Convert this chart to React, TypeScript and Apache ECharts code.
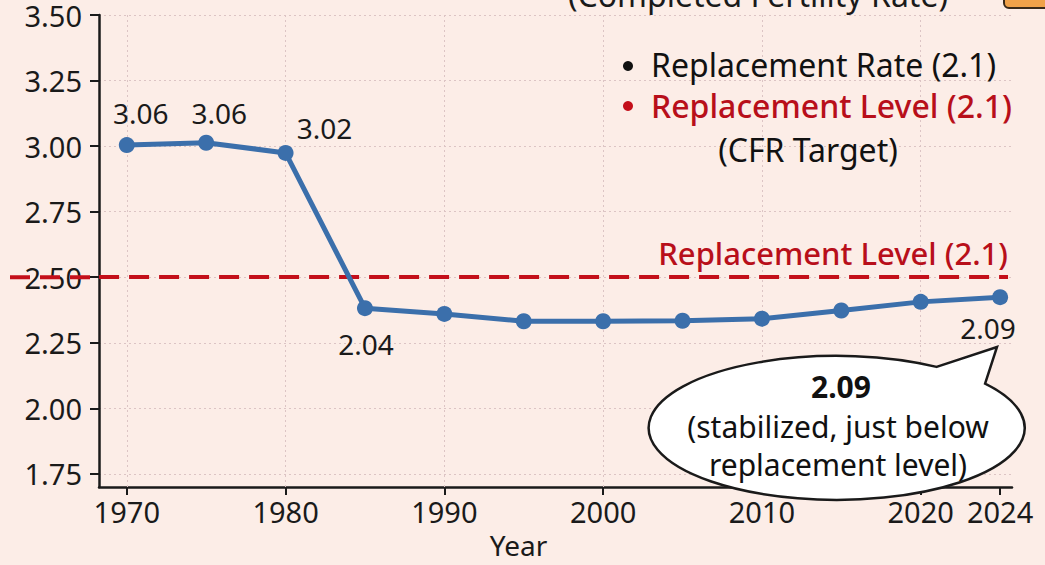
import React, { useEffect, useRef } from "react";
import * as echarts from "echarts";

// ---- data ----
const years = ["1970", "1975", "1980", "1985", "1990", "1995", "2000", "2005", "2010", "2015", "2020", "2024"];
const cfrValues = [3.004, 3.013, 2.974, 2.382, 2.36, 2.332, 2.332, 2.334, 2.342, 2.373, 2.406, 2.424];
const pointLabels = ["3.06", "3.06", "3.02", "2.04", "", "", "", "", "", "", "", "2.09"];
const labelledYearIdx = [0, 2, 4, 6, 8, 10, 11];
const gridYearIdx = [0, 2, 4, 6, 8, 10];
const yTickValues = [1.75, 2.0, 2.25, 2.5, 2.75, 3.0, 3.25, 3.5];
const yMin = 1.7;
const yMax = 3.5;
const replacementLevel = 2.5;
const replacementLabel = "Replacement Level (2.1)";
const legendItems = ["Replacement Rate (2.1)", "Replacement Level (2.1)"];
const legendNote = "(CFR Target)";
const titleText = "(Completed Fertility Rate)";
const calloutValue = "2.09";
const calloutLines = ["(stabilized, just below", "replacement level)"];
const xAxisName = "Year";

const FONT = "'Noto Sans', Roboto, sans-serif";
const INK = "#1a1a1a";
const BLUE = "#3b6fab";
const RED = "#c40f1a";
const GRIDC = "#dcc4c4";

echarts.graphic.registerShape(
  "bubble",
  echarts.graphic.extendPath(
    "M936.6 366.9 L997 347 L985.1 383.7 A188 72 0 1 1 936.6 366.9 Z",
    {}
  )
);

// label placement per point (style only)
const labelPlacement: Record<number, { position: string; offset: number[] }> = {
  0: { position: "top", offset: [14, -5] },
  1: { position: "top", offset: [13, -3] },
  2: { position: "top", offset: [39, 2] },
  3: { position: "bottom", offset: [1, 9] },
  11: { position: "bottom", offset: [-12, 4] },
};

export default function App() {
  const ref = useRef<HTMLDivElement>(null);
  useEffect(() => {
    if (!ref.current) return;
    const chart = echarts.init(ref.current, undefined, { renderer: "svg" });
    const seriesData = cfrValues.map((v, i) => {
      const lbl = pointLabels[i];
      const pl = labelPlacement[i];
      return {
        value: [i, v],
        label: lbl
          ? {
              show: true,
              formatter: lbl,
              position: pl ? pl.position : "top",
              offset: pl ? pl.offset : [0, 0],
            }
          : { show: false },
      };
    });

    const gridLineStyle = { color: GRIDC, type: [2, 3], width: 1, opacity: 1 };

    const graphics: any[] = [
      {
        type: "text",
        z: 100,
        style: {
          x: 758,
          y: 10,
          text: titleText,
          align: "center",
          verticalAlign: "bottom",
          fontSize: 32,
          fontFamily: FONT,
          fill: INK,
        },
      },
      {
        type: "rect",
        z: 100,
        shape: { x: 1004, y: -22, width: 60, height: 30, r: 5 },
        style: { fill: "#f0a24a", stroke: "#3a2a1a", lineWidth: 2 },
      },
      {
        type: "circle",
        z: 100,
        shape: { cx: 628, cy: 66, r: 5 },
        style: { fill: "#111" },
      },
      {
        type: "text",
        z: 100,
        style: {
          x: 651,
          y: 64,
          text: legendItems[0],
          verticalAlign: "middle",
          fontSize: 32,
          fontFamily: FONT,
          fill: "#111",
        },
      },
      {
        type: "circle",
        z: 100,
        shape: { cx: 628, cy: 106, r: 5 },
        style: { fill: RED },
      },
      {
        type: "text",
        z: 100,
        style: {
          x: 651,
          y: 105,
          text: legendItems[1],
          verticalAlign: "middle",
          fontSize: 32,
          fontWeight: 500,
          fontFamily: FONT,
          fill: "#b80f1a",
        },
      },
      {
        type: "text",
        z: 100,
        style: {
          x: 808,
          y: 149,
          text: legendNote,
          align: "center",
          verticalAlign: "middle",
          fontSize: 32,
          fontFamily: FONT,
          fill: "#111",
        },
      },
      {
        type: "bubble",
        z: 100,
        x: 0,
        y: 0,
        scaleX: 1,
        scaleY: 1,
        style: { fill: "#ffffff", stroke: "#1a1a1a", lineWidth: 2.5 },
      },
      {
        type: "text",
        z: 101,
        style: {
          x: 841,
          y: 386,
          text: calloutValue,
          align: "center",
          verticalAlign: "middle",
          fontSize: 30,
          fontWeight: "bold",
          fontFamily: FONT,
          fill: "#111",
        },
      },
      {
        type: "text",
        z: 101,
        style: {
          x: 838,
          y: 426,
          text: calloutLines[0],
          align: "center",
          verticalAlign: "middle",
          fontSize: 30,
          fontFamily: FONT,
          fill: "#111",
        },
      },
      {
        type: "text",
        z: 101,
        style: {
          x: 838,
          y: 464,
          text: calloutLines[1],
          align: "center",
          verticalAlign: "middle",
          fontSize: 30,
          fontFamily: FONT,
          fill: "#111",
        },
      },
    ];

    const option: any = {
      animation: false,
      backgroundColor: "#fcede7",
      textStyle: { fontFamily: FONT },
      grid: { left: 99, right: 33, top: 15, bottom: 78, containLabel: false },
      xAxis: {
        type: "value",
        min: -0.35,
        max: 11.15,
        interval: 1,
        name: xAxisName,
        nameLocation: "middle",
        nameGap: 44,
        nameTextStyle: { fontSize: 28, color: INK, fontFamily: FONT, padding: [0, 74, 0, 0] },
        axisLine: { show: true, onZero: false, lineStyle: { color: INK, width: 2.5 } },
        axisTick: {
          show: true,
          length: 8,
          lineStyle: { color: INK, width: 2 },
          customValues: labelledYearIdx,
        },
        axisLabel: {
          fontSize: 29,
          color: INK,
          fontFamily: FONT,
          margin: 10,
          customValues: labelledYearIdx,
          formatter: (v: number) => years[Math.round(v)] ?? "",
        },
        splitLine: { show: false },
      },
      yAxis: {
        type: "value",
        min: yMin,
        max: yMax,
        interval: 0.25,
        axisLine: { show: true, onZero: false, lineStyle: { color: INK, width: 2.5 } },
        axisTick: {
          show: true,
          length: 9,
          lineStyle: { color: INK, width: 2 },
          customValues: yTickValues,
        },
        axisLabel: {
          fontSize: 29,
          color: INK,
          fontFamily: FONT,
          margin: 17,
          customValues: yTickValues,
          formatter: (v: number) => v.toFixed(2),
        },
        splitLine: {
          show: true,
          lineStyle: gridLineStyle,
        },
      },
      series: [
        {
          type: "line",
          name: "grid",
          data: [],
          silent: true,
          z: 1,
          markLine: {
            silent: true,
            symbol: "none",
            animation: false,
            label: { show: false },
            emphasis: { disabled: true },
            lineStyle: gridLineStyle,
            data: gridYearIdx.map((i) => [
              { coord: [i, yMin], lineStyle: gridLineStyle },
              { coord: [i, yMax] },
            ]),
          },
        },
        {
          type: "line",
          name: "CFR",
          clip: false,
          data: seriesData,
          symbol: "circle",
          symbolSize: 16,
          lineStyle: { color: BLUE, width: 5 },
          itemStyle: { color: BLUE },
          label: { show: true, fontSize: 28, color: INK, fontFamily: FONT },
          z: 5,
          markLine: {
            silent: true,
            symbol: "none",
            animation: false,
            lineStyle: { color: RED, type: [20, 10], width: 4 },
            label: {
              show: true,
              position: "insideEndTop",
              formatter: replacementLabel,
              fontSize: 31,
              fontWeight: 500,
              color: "#b80f1a",
              fontFamily: FONT,
              distance: [0, 9],
            },
            data: [
              [
                { coord: [-0.349, replacementLevel] },
                { coord: [11.1, replacementLevel] },
              ],
            ],
          },
        },
      ],
      graphic: graphics,
    };
    chart.setOption(option);

    // extend the replacement line leftwards across the tick labels
    const p = chart.convertToPixel({ gridIndex: 0 }, [-0.35, replacementLevel]) as number[];
    if (p && isFinite(p[1])) {
      chart.setOption({
        graphic: [
          ...graphics,
          {
            type: "line",
            z: 100,
            shape: { x1: 10, y1: p[1], x2: p[0], y2: p[1] },
            style: { stroke: RED, lineWidth: 4, lineDash: [20, 10] },
          },
        ],
      });
    }
    return () => chart.dispose();
  }, []);
  return (
    <div
      ref={ref}
      style={{ position: "fixed", left: 0, top: 0, width: 1045, height: 565 }}
    />
  );
}
